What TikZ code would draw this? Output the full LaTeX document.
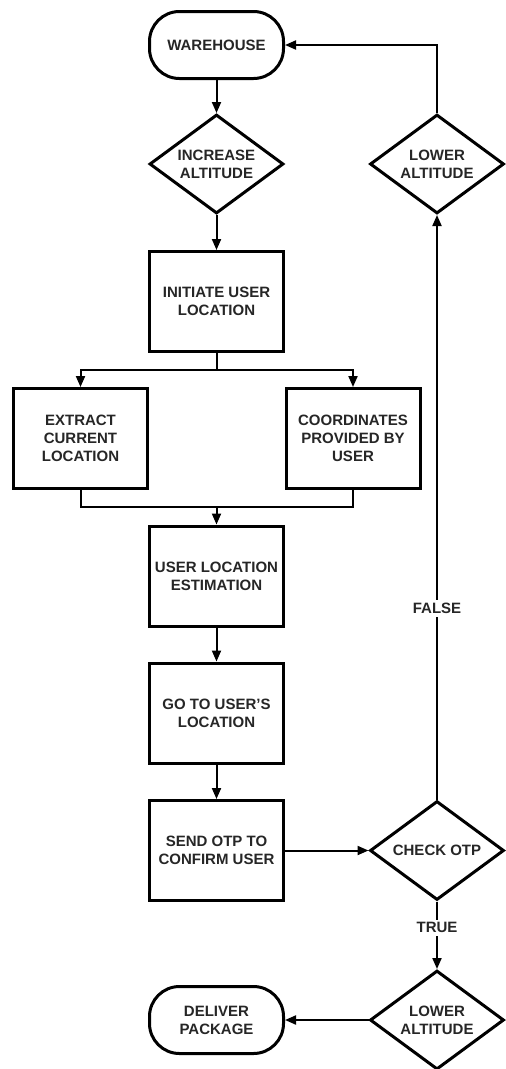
\documentclass[tikz,border=0pt]{standalone}
\usepackage{fontspec}
\setmainfont{Liberation Sans}
\usetikzlibrary{arrows.meta,shapes.geometric}
\begin{document}
\begin{tikzpicture}[x=1pt,y=-1pt,
  every node/.style={font=\bfseries\fontsize{15}{18}\selectfont, text=black!85, align=center},
  proc/.style={draw=black, rectangle, line width=3pt, minimum width=134pt, minimum height=100pt, inner sep=0pt},
  term/.style={draw=black, rectangle, rounded corners=30pt, line width=3pt, minimum width=134pt, minimum height=67pt, inner sep=0pt},
  dec/.style={draw=black, diamond, aspect=1.35, line width=3pt, minimum width=134pt, minimum height=99pt, inner sep=0pt, miter limit=20},
  conn/.style={line width=2pt, -{Triangle[length=11pt,width=9pt]}},
  plainline/.style={line width=2pt},
  lbl/.style={fill=white, inner sep=3pt}
]
\clip (0,0) rectangle (506,1069);
\fill[white] (0,0) rectangle (506,1069);

\node[term] (wh) at (216.5,45) {WAREHOUSE};
\node[dec] (inc) at (216.5,164) {INCREASE\\ALTITUDE};
\node[dec] (low1) at (437,164) {LOWER\\ALTITUDE};
\node[proc] (init) at (216.5,301.5) {INITIATE USER\\LOCATION};
\node[proc] (ext) at (80.5,438.5) {EXTRACT\\CURRENT\\LOCATION};
\node[proc] (coord) at (353,438.5) {COORDINATES\\PROVIDED BY\\USER};
\node[proc] (ule) at (216.5,576) {USER LOCATION\\ESTIMATION};
\node[proc] (goto) at (216.5,713) {GO TO USER'S\\LOCATION};
\node[proc] (otp) at (216.5,850.5) {SEND OTP TO\\CONFIRM USER};
\node[dec] (chk) at (437,850.5) {CHECK OTP};
\node[dec] (low2) at (437,1020) {LOWER\\ALTITUDE};
\node[term] (del) at (216.5,1020) {DELIVER\\PACKAGE};

\coordinate (split) at (216.5,370);
\coordinate (merge) at (216.5,507);

\draw[conn] (wh) -- (inc);
\draw[conn] (inc) -- (init);
\draw[plainline] (init.south) -- (split);
\draw[conn] (split) -| (ext.north);
\draw[conn] (split) -| (coord.north);
\draw[plainline] (ext.south) |- (merge) -| (coord.south);
\draw[conn] (merge) -- (ule.north);
\draw[conn] (ule) -- (goto);
\draw[conn] (goto) -- (otp);
\draw[conn] (otp.east) -- (chk.west);
\draw[conn] (chk.north) -- node[lbl, pos=0.327] (false) {FALSE} (low1.south);
\draw[conn] (low1.north) |- (wh.east);
\draw[conn] (chk.south) -- node[lbl, pos=0.39] (true) {TRUE} (low2.north);
\draw[conn] (low2.west) -- (del.east);
\end{tikzpicture}
\end{document}
